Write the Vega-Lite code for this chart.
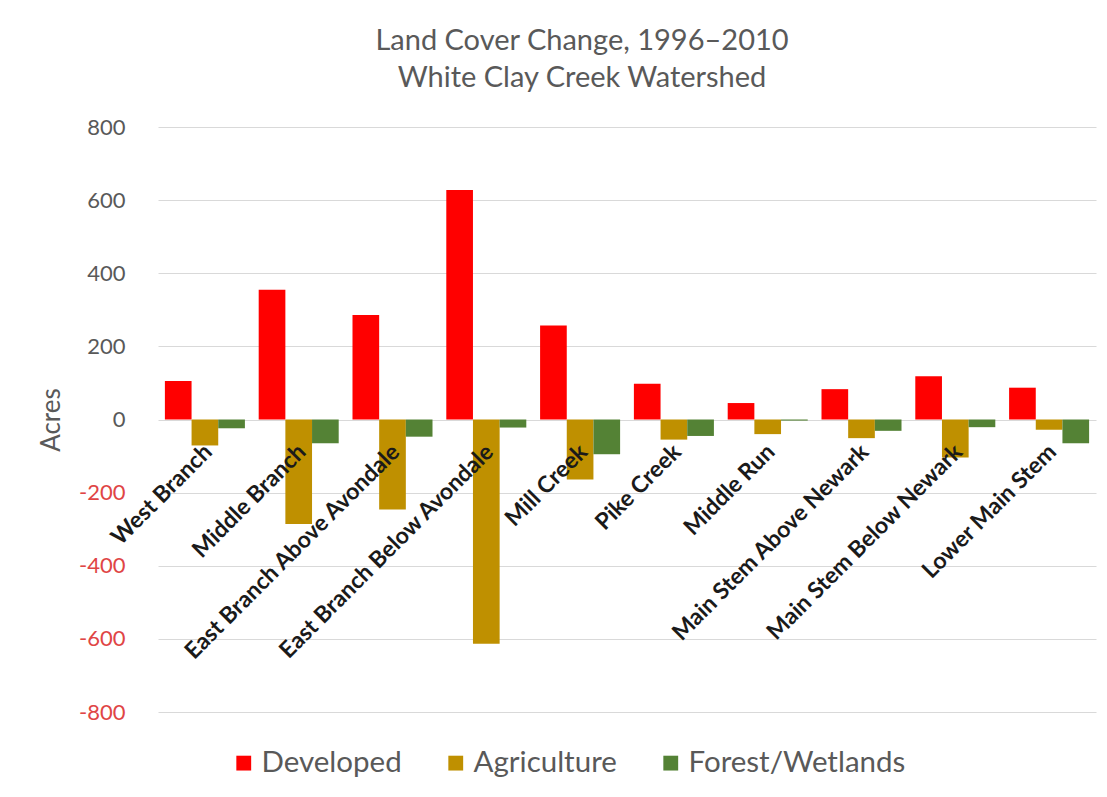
{
  "$schema": "https://vega.github.io/schema/vega-lite/v6.json",
  "width": 938,
  "height": 585,
  "autosize": {"type": "none"},
  "padding": {"left": 158, "top": 127, "right": 11, "bottom": 85},
  "background": "white",
  "config": {
    "font": "Lato",
    "view": {"stroke": null}
  },
  "title": {
    "text": ["Land Cover Change, 1996–2010", "White Clay Creek Watershed"],
    "fontSize": 29,
    "font": "Lato",
    "fontWeight": "normal",
    "color": "#595959",
    "anchor": "middle",
    "lineHeight": 37,
    "offset": 23,
    "dx": -45
  },
  "data": {
    "values": [
      {"region": "West Branch", "type": "Developed", "acres": 105},
      {"region": "West Branch", "type": "Agriculture", "acres": -71},
      {"region": "West Branch", "type": "Forest/Wetlands", "acres": -24},
      {"region": "Middle Branch", "type": "Developed", "acres": 355},
      {"region": "Middle Branch", "type": "Agriculture", "acres": -286},
      {"region": "Middle Branch", "type": "Forest/Wetlands", "acres": -65},
      {"region": "East Branch Above Avondale", "type": "Developed", "acres": 286},
      {"region": "East Branch Above Avondale", "type": "Agriculture", "acres": -246},
      {"region": "East Branch Above Avondale", "type": "Forest/Wetlands", "acres": -47},
      {"region": "East Branch Below Avondale", "type": "Developed", "acres": 628},
      {"region": "East Branch Below Avondale", "type": "Agriculture", "acres": -613},
      {"region": "East Branch Below Avondale", "type": "Forest/Wetlands", "acres": -22},
      {"region": "Mill Creek", "type": "Developed", "acres": 257},
      {"region": "Mill Creek", "type": "Agriculture", "acres": -164},
      {"region": "Mill Creek", "type": "Forest/Wetlands", "acres": -95},
      {"region": "Pike Creek", "type": "Developed", "acres": 98},
      {"region": "Pike Creek", "type": "Agriculture", "acres": -55},
      {"region": "Pike Creek", "type": "Forest/Wetlands", "acres": -45},
      {"region": "Middle Run", "type": "Developed", "acres": 45},
      {"region": "Middle Run", "type": "Agriculture", "acres": -40},
      {"region": "Middle Run", "type": "Forest/Wetlands", "acres": -3},
      {"region": "Main Stem Above Newark", "type": "Developed", "acres": 83},
      {"region": "Main Stem Above Newark", "type": "Agriculture", "acres": -51},
      {"region": "Main Stem Above Newark", "type": "Forest/Wetlands", "acres": -31},
      {"region": "Main Stem Below Newark", "type": "Developed", "acres": 118},
      {"region": "Main Stem Below Newark", "type": "Agriculture", "acres": -104},
      {"region": "Main Stem Below Newark", "type": "Forest/Wetlands", "acres": -21},
      {"region": "Lower Main Stem", "type": "Developed", "acres": 87},
      {"region": "Lower Main Stem", "type": "Agriculture", "acres": -28},
      {"region": "Lower Main Stem", "type": "Forest/Wetlands", "acres": -65}
    ]
  },
  "layer": [
    {
      "mark": {"type": "bar"},
      "encoding": {
        "x": {
          "field": "region",
          "type": "nominal",
          "sort": null,
          "scale": {"paddingInner": 0.147, "paddingOuter": 0.0735},
          "axis": null
        },
        "xOffset": {
          "field": "type",
          "type": "nominal",
          "sort": ["Developed", "Agriculture", "Forest/Wetlands"],
          "scale": {"paddingInner": 0, "paddingOuter": 0}
        },
        "y": {
          "field": "acres",
          "type": "quantitative",
          "scale": {"domain": [-800, 800], "nice": false},
          "axis": {
            "values": [-800, -600, -400, -200, 0, 200, 400, 600, 800],
            "grid": true,
            "gridColor": "#d9d9d9",
            "gridWidth": 1,
            "domain": false,
            "ticks": false,
            "labelFontSize": 22,
            "labelFont": "Lato",
            "labelExpr": "replace(datum.label, '−', '-')",
            "labelColor": {"condition": {"test": "datum.value < 0", "value": "#e04545"}, "value": "#595959"},
            "labelPadding": 33,
            "title": "Acres",
            "titleFont": "Lato",
            "titleFontSize": 26,
            "titleFontWeight": "normal",
            "titleColor": "#595959",
            "titlePadding": 14
          }
        },
        "color": {
          "field": "type",
          "type": "nominal",
          "scale": {
            "domain": ["Developed", "Agriculture", "Forest/Wetlands"],
            "range": ["#ff0000", "#bf9000", "#548235"]
          },
          "legend": {
            "orient": "none",
            "legendX": 71,
            "legendY": 621,
            "direction": "horizontal",
            "title": null,
            "symbolType": "square",
            "symbolSize": 220,
            "symbolStrokeWidth": 0,
            "labelFontSize": 29.5,
            "labelFont": "Lato",
            "labelColor": "#595959",
            "labelLimit": 0,
            "labelOffset": 3,
            "columnPadding": 39,
            "padding": 0
          }
        }
      }
    },
    {
      "transform": [{"filter": "datum.type === 'Developed'"}],
      "mark": {
        "type": "text",
        "angle": 315,
        "align": "right",
        "baseline": "middle",
        "fontWeight": "bold",
        "fontSize": 23,
        "font": "Lato",
        "color": "#1a1a1a",
        "dx": -18,
        "dy": 23
      },
      "encoding": {
        "x": {"field": "region", "type": "nominal", "sort": null},
        "y": {"datum": 0},
        "text": {"field": "region"}
      }
    }
  ]
}
